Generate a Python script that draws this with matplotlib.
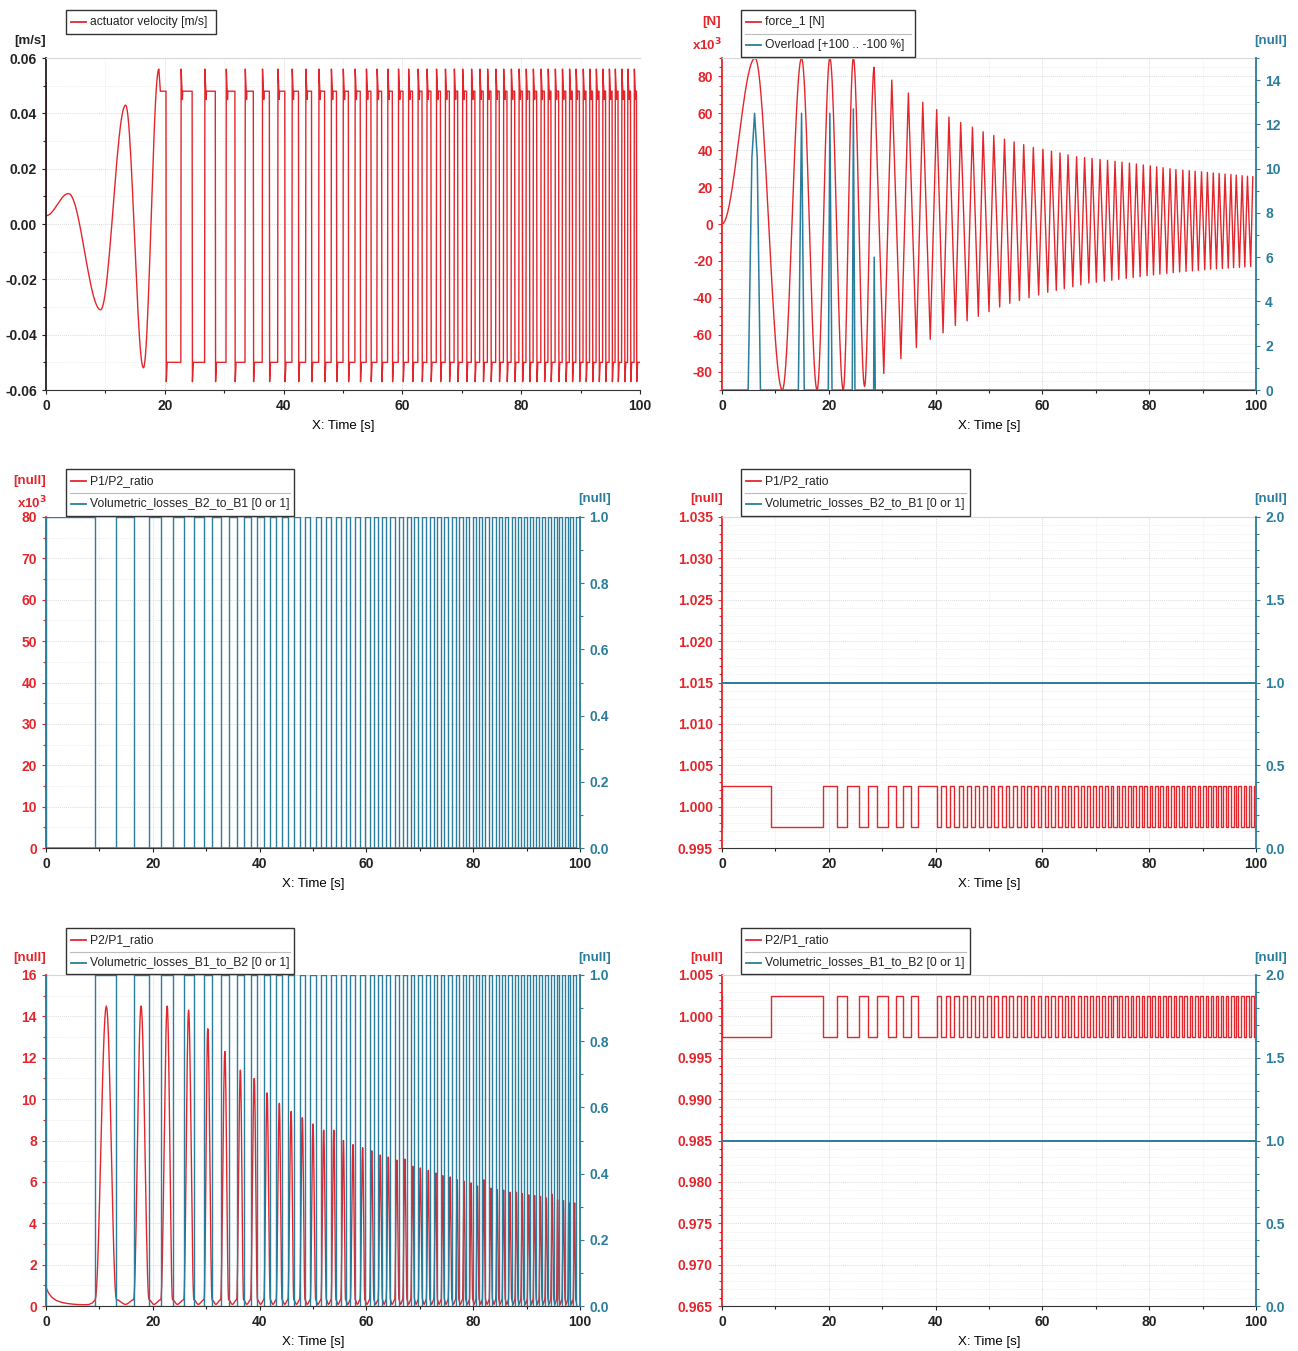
#!/usr/bin/env python3
"""Actuator / pressure-ratio simulation results, 3x2 grid."""
import numpy as np
import matplotlib
matplotlib.use('Agg')
import matplotlib.pyplot as plt
from matplotlib.lines import Line2D
from matplotlib.patches import Rectangle
from matplotlib.ticker import MultipleLocator, FormatStrFormatter

plt.rcParams.update({'font.family': ['Liberation Sans', 'DejaVu Sans'],
                     'font.size': 9.5, 'font.weight': 'bold'})

RED = '#e4262c'
TEAL = '#2a7d9c'
W, H = 1298, 1351
T_END = 100.0
LW = 1.0

# ── data ──
# force_1 extremes [x10^3 N]
force_peak_t = [6.2, 14.9, 20.2, 24.6, 28.5, 31.8, 34.9, 37.6, 40.2, 42.5,
                44.7, 46.9, 48.9, 50.9, 52.9, 54.7, 56.5, 58.3, 60.1, 61.7,
                63.3, 64.8, 66.4, 67.9, 69.3, 70.8, 72.2, 73.6, 74.9, 76.3,
                77.6, 78.9, 80.2, 81.4, 82.6, 83.9, 85.0, 86.3, 87.5, 88.6,
                89.8, 90.9, 92.0, 93.1, 94.2, 95.3, 96.3, 97.4, 98.4, 99.4]
force_peak_v = [90, 90, 90, 90, 85, 78, 71, 66, 62, 58,
                55, 52.5, 50, 48, 46, 44.5, 43, 41.5, 40.5, 39.5,
                38.5, 37.5, 36.5, 36, 35.5, 35, 34.5, 34, 33.5, 33,
                32.5, 32, 31.5, 31, 30.5, 30, 29.5, 29.2, 28.9, 28.6,
                28.3, 28, 27.7, 27.4, 27.1, 26.8, 26.5, 26.2, 25.9, 25.6]
force_trough_t = [11.3, 17.8, 22.7, 26.7, 30.3, 33.5, 36.4, 39.0, 41.4, 43.7,
                  45.9, 48.0, 50.0, 52.0, 53.9, 55.7, 57.5, 59.3, 61.0, 62.6,
                  64.1, 65.7, 67.2, 68.7, 70.1, 71.6, 73.0, 74.3, 75.7, 77.0,
                  78.3, 79.6, 80.8, 82.0, 83.3, 84.5, 85.7, 86.9, 88.1, 89.2,
                  90.4, 91.5, 92.6, 93.7, 94.8, 95.8, 96.9, 97.9, 99.0]
force_trough_v = [-90, -90, -90, -88, -81, -73, -67, -62.5, -59, -55,
                  -52.5, -50, -47.5, -45, -43, -41.5, -40, -38.5, -37, -36,
                  -35, -34, -33, -32, -31.5, -31, -30.5, -30, -29.5, -29,
                  -28.5, -28, -27.6, -27.2, -26.8, -26.4, -26, -25.7, -25.4, -25.1,
                  -24.8, -24.5, -24.3, -24.1, -23.9, -23.7, -23.5, -23.3, -23.1]

# Overload [+100 .. -100 %]
overload_t = [0, 4.9, 5.6, 6.1, 6.6, 7.2, 14.3, 14.9, 15.4, 19.9, 20.2, 20.6,
              24.4, 24.6, 24.9, 28.4, 28.5, 28.7, 100]
overload_v = [0, 0, 10.5, 12.5, 10.5, 0, 0, 12.5, 0, 0, 12.5, 0,
              0, 12.7, 0, 0, 6.0, 0, 0]

# actuator velocity [m/s]
vel_start_spike = [-0.045, 0.051]
vel_init_t = [0, 3.8, 9.2, 13.4, 16.4, 19.0]
vel_init_v = [0.003, 0.011, -0.031, 0.043, -0.052, 0.056]
vel_peak, vel_high, vel_notch = 0.056, 0.048, 0.045
vel_dip, vel_low = -0.057, -0.050

# Volumetric_losses switching times (left column)
loss_switch_t = [9.2, 13.2, 16.4, 19.3, 21.5, 23.7, 25.8, 27.7, 29.6, 31.1,
                 32.7, 34.2, 35.7, 37.0, 38.3, 39.6, 40.8, 42.0, 43.1, 44.2,
                 45.3, 46.4, 47.5, 48.5, 49.5, 50.5, 51.5, 52.5, 53.4, 54.3,
                 55.2, 56.1, 57.0, 57.9, 58.8, 59.7, 60.6, 61.4, 62.2, 63.0,
                 63.7, 64.5, 65.3, 66.1, 66.8, 67.6, 68.3, 69.0, 69.7, 70.5,
                 71.2, 71.9, 72.6, 73.3, 74.0, 74.6, 75.3, 76.0, 76.7, 77.3,
                 78.0, 78.6, 79.3, 79.9, 80.5, 81.1, 81.7, 82.3, 83.0, 83.6,
                 84.2, 84.8, 85.4, 86.0, 86.6, 87.2, 87.8, 88.4, 88.9, 89.5,
                 90.1, 90.7, 91.2, 91.8, 92.3, 92.9, 93.4, 94.0, 94.5, 95.1,
                 95.6, 96.1, 96.6, 97.2, 97.7, 98.2, 98.7, 99.2]

# P2/P1 ratio (bottom-left)
p2p1_init_t = [0, 0.5, 1, 1.5, 2, 3, 4, 5, 6, 7, 8, 8.7]
p2p1_init_v = [0.9, 0.62, 0.45, 0.34, 0.26, 0.17, 0.12, 0.09, 0.07, 0.06, 0.07, 0.15]
p2p1_peak_v = [14.5, 14.5, 14.5, 14.3, 13.4, 12.3, 11.4, 11.0, 10.3, 9.8,
               9.4, 9.1, 8.8, 8.5, 8.5, 8.0, 7.8, 7.65, 7.5, 7.3,
               7.2, 7.05, 7.1, 6.75, 6.67, 6.56, 6.43, 6.3, 6.24, 6.1,
               6.03, 5.95, 5.8, 6.1, 5.7, 5.63, 5.6, 5.5, 5.5, 5.43,
               5.37, 5.34, 5.3, 5.22, 5.4, 5.14, 5.1, 5.0, 4.98]
p2p1_edge, p2p1_floor = 0.3, 0.08

# pressure ratio switching (right column)
ratio_switch_t = [9.1, 19.0, 21.5, 23.5, 25.7, 27.4, 29.1, 31.0, 32.5, 33.9,
                  35.3, 36.7, 40.3, 41.1, 41.9, 42.7, 43.5, 44.3, 45.1, 45.8,
                  46.6, 47.3, 48.1, 48.8, 49.6, 50.3, 51.0, 51.7, 52.4, 53.1,
                  53.8, 54.5, 55.2, 55.9, 56.6, 57.2, 57.9, 58.5, 59.2, 59.8,
                  60.5, 61.1, 61.7, 62.3, 63.0, 63.6, 64.2, 64.8, 65.4, 66.0,
                  66.6, 67.2, 67.8, 68.3, 68.9, 69.5, 70.0, 70.6, 71.1, 71.7,
                  72.2, 72.8, 73.3, 73.9, 74.4, 74.9, 75.5, 76.0, 76.5, 77.0,
                  77.6, 78.1, 78.6, 79.1, 79.6, 80.1, 80.6, 81.1, 81.6, 82.1,
                  82.6, 83.1, 83.6, 84.1, 84.6, 85.1, 85.6, 86.1, 86.6, 87.1,
                  87.6, 88.1, 88.6, 89.1, 89.6, 90.1, 90.6, 91.0, 91.5, 92.0,
                  92.5, 92.9, 93.4, 93.9, 94.4, 94.8, 95.3, 95.8, 96.3, 96.7,
                  97.2, 97.7, 98.2, 98.6, 99.1, 99.6]
ratio_hi, ratio_lo = 1.0025, 0.9975
loss_const = 1.0


# ── helpers ──
def smooth(tk, vk, linear_after=None, n=24):
    """half-cosine (or straight) segments between key points"""
    out_t, out_v = [tk[0]], [vk[0]]
    s = np.linspace(0, 1, n)[1:]
    for i in range(len(tk) - 1):
        if linear_after is not None and tk[i] >= linear_after:
            f = s
        else:
            f = (1 - np.cos(np.pi * s)) / 2
        out_t.extend(tk[i] + (tk[i + 1] - tk[i]) * s)
        out_v.extend(vk[i] + (vk[i + 1] - vk[i]) * f)
    return np.array(out_t), np.array(out_v)


def square(sw, a, b):
    xs, ys = [0.0], [a]
    cur, nxt = a, b
    for s in sw:
        xs += [s, s]
        ys += [cur, nxt]
        cur, nxt = nxt, cur
    xs.append(T_END)
    ys.append(cur)
    return xs, ys


def rect(l, t, r, b):
    return [l / W, 1 - b / H, (r - l) / W, (b - t) / H]


fig = plt.figure(figsize=(W / 100, H / 100), dpi=100)


def base_axes(box, ylim, ymaj, ymin, yfmt, lcolor):
    ax = fig.add_axes(rect(*box))
    ax.set_xlim(0, 100)
    ax.set_ylim(*ylim)
    ax.xaxis.set_major_locator(MultipleLocator(20))
    ax.xaxis.set_minor_locator(MultipleLocator(10))
    ax.yaxis.set_major_locator(MultipleLocator(ymaj))
    ax.yaxis.set_minor_locator(MultipleLocator(ymin))
    ax.yaxis.set_major_formatter(FormatStrFormatter(yfmt))
    ax.grid(which='major', color='#dcdcdc', lw=0.7, ls=(0, (1, 1)))
    ax.grid(which='minor', color='#ececec', lw=0.6, ls=(0, (1, 1)))
    ax.set_axisbelow(True)
    ax.tick_params(which='both', labelsize=10, length=3, width=0.8, direction='out')
    ax.tick_params(which='minor', length=2)
    ax.tick_params(axis='y', which='both', colors=lcolor)
    ax.tick_params(axis='x', which='both', colors='#222222')
    ax.spines['left'].set_color(lcolor)
    ax.spines['left'].set_linewidth(1.3)
    ax.spines['bottom'].set_color('#333333')
    ax.spines['top'].set_color('#d8d8d8')
    ax.spines['right'].set_color('#d8d8d8')
    ax.set_xlabel('X: Time [s]', fontsize=9.5, fontweight='normal', labelpad=5)
    return ax


def right_axes(ax, ylim, ymaj, ymin, yfmt):
    ax2 = ax.twinx()
    ax2.set_ylim(*ylim)
    ax2.yaxis.set_major_locator(MultipleLocator(ymaj))
    ax2.yaxis.set_minor_locator(MultipleLocator(ymin))
    ax2.yaxis.set_major_formatter(FormatStrFormatter(yfmt))
    ax2.tick_params(which='both', labelsize=10, length=3, width=0.8, colors=TEAL)
    ax2.tick_params(which='minor', length=2)
    ax2.spines['right'].set_color(TEAL)
    ax2.spines['right'].set_linewidth(1.3)
    for side in ('left', 'top', 'bottom'):
        ax2.spines[side].set_visible(False)
    return ax2


def legend_box(x0, y0, x1, y1, entries):
    fig.add_artist(Rectangle((x0 / W, 1 - y1 / H), (x1 - x0) / W, (y1 - y0) / H,
                             transform=fig.transFigure, fc='white', ec='#333333',
                             lw=1.0, zorder=10))
    for i, (label, color) in enumerate(entries):
        yc = y0 + 12 + 23 * i
        if i > 0:
            fig.add_artist(Line2D([(x0 + 4) / W, (x1 - 4) / W], [1 - (yc - 11) / H] * 2,
                                  transform=fig.transFigure, color='#bbbbbb',
                                  lw=0.8, zorder=11))
        fig.add_artist(Line2D([(x0 + 5) / W, (x0 + 20) / W], [1 - yc / H] * 2,
                              transform=fig.transFigure, color=color, lw=1.3, zorder=11))
        fig.text((x0 + 24) / W, 1 - yc / H, label, ha='left', va='center',
                 fontsize=8.7, fontweight='normal', color='#222222', zorder=12)


def unit(x, y, s, color):
    fig.text(x / W, 1 - y / H, s, ha='center', va='center', fontsize=9.5,
             fontweight='bold', color=color)


# ── panel 1: actuator velocity ──
vt, vv = smooth(vel_init_t, vel_init_v)
vt = [0.0, 0.0] + list(vt) + [vel_init_t[-1] + 0.25]
vv = vel_start_spike + list(vv) + [vel_high]
events = sorted([(x, 'fall') for x in force_peak_t if x > vel_init_t[-1]] +
                [(x, 'rise') for x in force_trough_t if x > vel_init_t[-1]])
for x, kind in events:
    if kind == 'fall':
        vt += [x, x + 0.05, x + 0.2]
        vv += [vel_high, vel_dip, vel_low]
    else:
        vt += [x, x + 0.05, x + 0.2, x + 0.26, x + 0.32]
        vv += [vel_low, vel_peak, vel_high, vel_notch, vel_high]
vt.append(T_END)
vv.append(vv[-1])

ax1 = base_axes((46, 58, 640, 390), (-0.06, 0.06), 0.02, 0.01, '%.2f', '#222222')
ax1.spines['right'].set_visible(False)
ax1.plot(vt, vv, color=RED, lw=LW)
legend_box(66, 10, 216, 34, [('actuator velocity [m/s]', RED)])
unit(30, 41, '[m/s]', '#222222')

# ── panel 2: force_1 + Overload ──
ext = sorted([(0.0, 0.0)] + list(zip(force_peak_t, force_peak_v)) +
             list(zip(force_trough_t, force_trough_v)))
ft, fv = smooth([e[0] for e in ext], [e[1] for e in ext], linear_after=27)
ax2 = base_axes((722, 58, 1256, 390), (-90, 90), 20, 5, '%d', RED)
ax2.plot(ft, fv, color=RED, lw=LW)
ax2r = right_axes(ax2, (0, 15), 2, 1, '%d')
ax2r.plot(overload_t, overload_v, color=TEAL, lw=1.1)
legend_box(741, 10, 915, 57, [('force_1 [N]', RED), ('Overload [+100 .. -100 %]', TEAL)])
unit(712, 22, '[N]', RED)
unit(707, 45, r'x10$^{3}$', RED)
unit(1271, 41, '[null]', TEAL)

# ── P2/P1 ratio curve shared by the left column ──
keys = sorted([(s, p2p1_edge) for s in loss_switch_t] +
              list(zip(force_trough_t, p2p1_peak_v)) +
              [(p, p2p1_floor) for p in force_peak_t if p > loss_switch_t[0]])
rt, rv = smooth([k[0] for k in keys], [k[1] for k in keys], n=16)
p2p1_t = np.concatenate([p2p1_init_t, rt])
p2p1_v = np.concatenate([p2p1_init_v, rv])

# ── panel 3: P1/P2 ratio + losses B2->B1 ──
ax3 = base_axes((46, 517, 580, 848), (0, 80), 10, 5, '%d', RED)
ax3.plot(p2p1_t, 1.0 / p2p1_v / 1000.0, color=RED, lw=LW)
ax3r = right_axes(ax3, (0, 1.0), 0.2, 0.1, '%.1f')
bx, by = square(loss_switch_t, 1.0, 0.0)
ax3r.plot([0.0] + bx, [0.0] + by, color=TEAL, lw=LW)
legend_box(66, 469, 294, 516, [('P1/P2_ratio', RED),
                               ('Volumetric_losses_B2_to_B1 [0 or 1]', TEAL)])
unit(30, 481, '[null]', RED)
unit(32, 503, r'x10$^{3}$', RED)
unit(595, 499, '[null]', TEAL)

# ── panel 4: P1/P2 ratio (case 2) ──
ax4 = base_axes((722, 517, 1256, 848), (0.995, 1.035), 0.005, 0.001, '%.3f', RED)
sx, sy = square(ratio_switch_t, ratio_hi, ratio_lo)
ax4.plot([0.0] + sx, [ratio_lo] + sy, color=RED, lw=LW)
ax4r = right_axes(ax4, (0, 2.0), 0.5, 0.1, '%.1f')
ax4r.plot([0.0, T_END], [loss_const, loss_const], color=TEAL, lw=1.4)
legend_box(741, 469, 970, 516, [('P1/P2_ratio', RED),
                                ('Volumetric_losses_B2_to_B1 [0 or 1]', TEAL)])
unit(707, 499, '[null]', RED)
unit(1271, 499, '[null]', TEAL)

# ── panel 5: P2/P1 ratio + losses B1->B2 ──
ax5 = base_axes((46, 975, 580, 1306), (0, 16), 2, 1, '%d', RED)
ax5.plot(p2p1_t, p2p1_v, color=RED, lw=LW)
ax5r = right_axes(ax5, (0, 1.0), 0.2, 0.1, '%.1f')
bx, by = square(loss_switch_t, 0.0, 1.0)
ax5r.plot([0.0] + bx, [1.0] + by, color=TEAL, lw=LW)
legend_box(66, 928, 294, 974, [('P2/P1_ratio', RED),
                               ('Volumetric_losses_B1_to_B2 [0 or 1]', TEAL)])
unit(30, 958, '[null]', RED)
unit(595, 958, '[null]', TEAL)

# ── panel 6: P2/P1 ratio (case 2) ──
ax6 = base_axes((722, 975, 1256, 1306), (0.965, 1.005), 0.005, 0.001, '%.3f', RED)
sx, sy = square(ratio_switch_t, ratio_lo, ratio_hi)
ax6.plot([0.0] + sx, [ratio_hi] + sy, color=RED, lw=LW)
ax6r = right_axes(ax6, (0, 2.0), 0.5, 0.1, '%.1f')
ax6r.plot([0.0, T_END], [loss_const, loss_const], color=TEAL, lw=1.4)
legend_box(741, 928, 970, 974, [('P2/P1_ratio', RED),
                                ('Volumetric_losses_B1_to_B2 [0 or 1]', TEAL)])
unit(707, 958, '[null]', RED)
unit(1271, 958, '[null]', TEAL)

fig.savefig('out.png', dpi=100)
print('saved')
